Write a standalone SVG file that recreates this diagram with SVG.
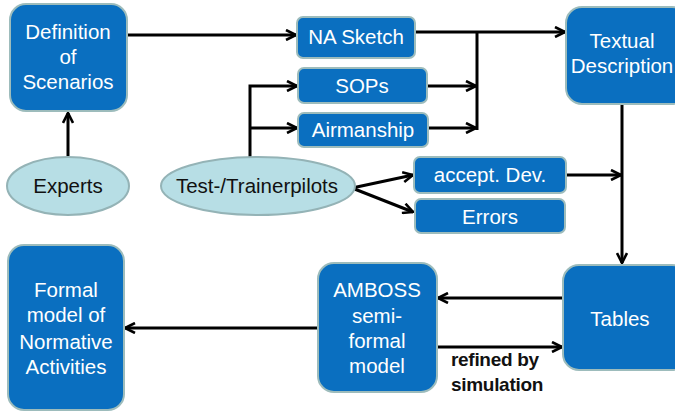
<svg xmlns="http://www.w3.org/2000/svg" width="675" height="412" viewBox="0 0 675 412">
<defs>
<marker id="ah" viewBox="0 0 12 12" refX="11" refY="6" markerWidth="12" markerHeight="12" markerUnits="userSpaceOnUse" orient="auto">
<path d="M1,1 L11,6 L1,11" fill="none" stroke="#000" stroke-width="2.6"/>
</marker>
</defs>
<style>
.box{fill:#0a6fc0;stroke:#9dbcbc;stroke-width:2}
.ell{fill:#b7dee5;stroke:#94b3b6;stroke-width:2}
.wt{font-family:"Liberation Sans",Arial,sans-serif;font-size:20.5px;fill:#fff;text-anchor:middle}
.dt{font-family:"Liberation Sans",Arial,sans-serif;font-size:20.5px;fill:#111;text-anchor:middle}
.lbl{font-family:"Liberation Sans",Arial,sans-serif;font-size:19px;font-weight:bold;fill:#111;letter-spacing:-0.3px}
.c{fill:none;stroke:#000;stroke-width:3}
</style>
<rect width="675" height="412" fill="#fff"/>
<g id="connectors">
<path class="c" d="M127,35 H296" marker-end="url(#ah)"/>
<path class="c" d="M68,156 V113" marker-end="url(#ah)"/>
<path class="c" d="M250,157 V86 H297" marker-end="url(#ah)"/>
<path class="c" d="M250,128 H297" marker-end="url(#ah)"/>
<path class="c" d="M427,86 H476" marker-end="url(#ah)"/>
<path class="c" d="M428,128 H476" marker-end="url(#ah)"/>
<path class="c" d="M477,32 V130"/>
<path class="c" d="M415,32 H565" marker-end="url(#ah)"/>
<path class="c" d="M622,104 V263" marker-end="url(#ah)"/>
<path class="c" d="M566,175 H621" marker-end="url(#ah)"/>
<path class="c" d="M352,188 L413,175" marker-end="url(#ah)"/>
<path class="c" d="M352,188 L413,212" marker-end="url(#ah)"/>
<path class="c" d="M563,298 H438" marker-end="url(#ah)"/>
<path class="c" d="M437,347 H562" marker-end="url(#ah)"/>
<path class="c" d="M318,328 H125" marker-end="url(#ah)"/>
</g>
<g id="definition">
<rect class="box" x="10" y="4" width="117" height="107" rx="16"/>
<text class="wt" x="68" y="39">Definition</text>
<text class="wt" x="68" y="64">of</text>
<text class="wt" x="68" y="89">Scenarios</text>
</g>
<g id="experts">
<ellipse class="ell" cx="68" cy="186" rx="61" ry="29"/>
<text class="dt" x="68" y="193">Experts</text>
</g>
<g id="pilots">
<ellipse class="ell" cx="258" cy="186" rx="97" ry="29"/>
<text class="dt" x="257" y="193">Test-/Trainerpilots</text>
</g>
<g id="nasketch">
<rect class="box" x="297" y="17" width="118" height="41" rx="6"/>
<text class="wt" x="356" y="44">NA Sketch</text>
</g>
<g id="sops">
<rect class="box" x="298" y="68" width="129" height="35" rx="6"/>
<text class="wt" x="362" y="93">SOPs</text>
</g>
<g id="airmanship">
<rect class="box" x="298" y="113" width="130" height="34" rx="6"/>
<text class="wt" x="363" y="137">Airmanship</text>
</g>
<g id="acceptdev">
<rect class="box" x="414" y="157" width="152" height="36" rx="6"/>
<text class="wt" x="490" y="182">accept. Dev.</text>
</g>
<g id="errors">
<rect class="box" x="415" y="199" width="150" height="34" rx="6"/>
<text class="wt" x="490" y="224">Errors</text>
</g>
<g id="textual">
<rect class="box" x="566" y="7" width="122" height="97" rx="16"/>
<text class="wt" x="622" y="48">Textual</text>
<text class="wt" x="622" y="73">Description</text>
</g>
<g id="tables">
<rect class="box" x="563" y="265" width="125" height="105" rx="16"/>
<text class="wt" x="620" y="326">Tables</text>
</g>
<g id="amboss">
<rect class="box" x="318" y="263" width="119" height="129" rx="16"/>
<text class="wt" x="377" y="297">AMBOSS</text>
<text class="wt" x="377" y="323">semi-</text>
<text class="wt" x="377" y="348">formal</text>
<text class="wt" x="377" y="373">model</text>
</g>
<g id="formal">
<rect class="box" x="8" y="245" width="116" height="165" rx="16"/>
<text class="wt" x="66" y="297">Formal</text>
<text class="wt" x="66" y="322">model of</text>
<text class="wt" x="66" y="349">Normative</text>
<text class="wt" x="66" y="374">Activities</text>
</g>
<g id="label">
<text class="lbl" x="451" y="366">refined by</text>
<text class="lbl" x="451" y="391">simulation</text>
</g>
</svg>
